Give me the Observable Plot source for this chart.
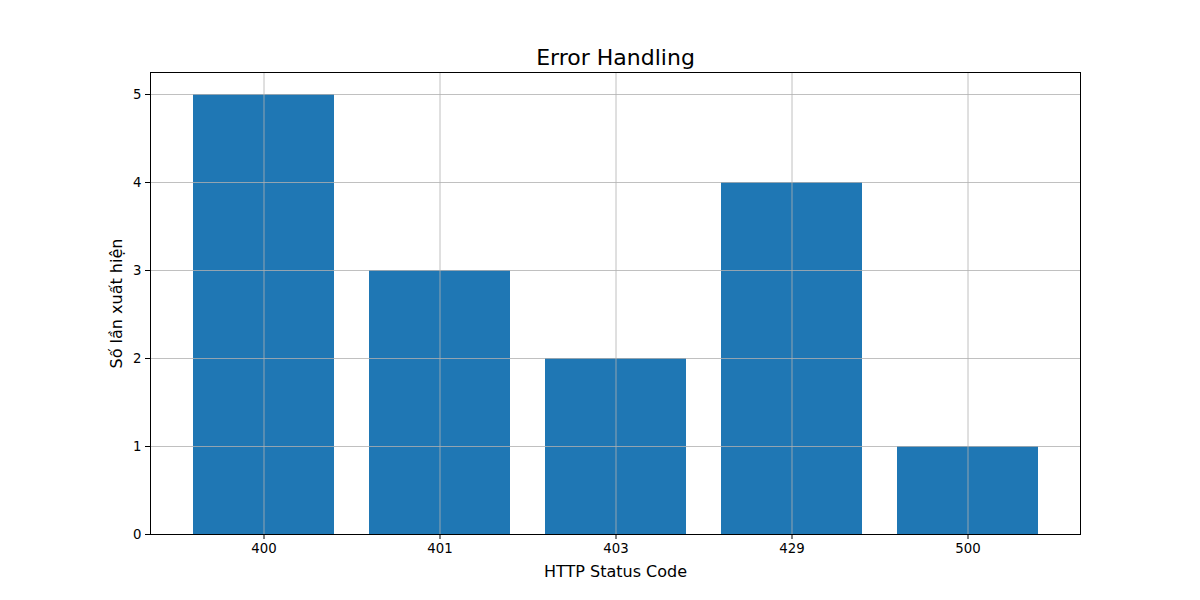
<!DOCTYPE html>
<html>
<head>
<meta charset="utf-8">
<script src="https://cdn.jsdelivr.net/npm/d3@7"></script>
<script src="https://cdn.jsdelivr.net/npm/@observablehq/plot@0.6"></script>
<style>
  body { margin: 0; background: #fff; }
  svg { font-family: "DejaVu Sans", sans-serif; }
</style>
</head>
<body>
<div id="chart"></div>
<script>
const codes = ["400", "401", "403", "429", "500"];
const counts = [5, 3, 2, 4, 1];
const yTicks = [0, 1, 2, 3, 4, 5];
const title = "Error Handling";
const xLabel = "HTTP Status Code";
const yLabel = "Số lần xuất hiện";

const data = codes.map((c, i) => ({code: c, count: counts[i]}));

const chart = Plot.plot({
  width: 1200,
  height: 600,
  marginLeft: 150,
  marginRight: 120,
  marginTop: 72,
  marginBottom: 66,
  style: {fontFamily: "DejaVu Sans, sans-serif", fontSize: "13.3px", color: "black", background: "white"},
  x: {type: "band", domain: codes, paddingInner: 0.2, paddingOuter: 0.24, align: 0.5, label: null},
  y: {domain: [0, 5.25], label: null},
  marks: [
    Plot.barY(data, {x: "code", y: "count", fill: "#1f77b4"}),
    Plot.gridX({stroke: "#b0b0b0", strokeOpacity: 1, strokeWidth: 0.8}),
    Plot.gridY(yTicks, {stroke: "#b0b0b0", strokeOpacity: 1, strokeWidth: 0.8}),
    Plot.axisX({tickSize: 5, tickPadding: 4, fontSize: 13.3, label: null, stroke: "black"}),
    Plot.axisY({ticks: yTicks, tickFormat: "d", tickSize: 5, tickPadding: 4, fontSize: 13.3, label: null, stroke: "black"}),
    Plot.frame({stroke: "black", strokeWidth: 1}),
    Plot.text([title], {frameAnchor: "top", dy: -15, fontSize: 22, lineAnchor: "middle", fill: "black"}),
    Plot.text([xLabel], {frameAnchor: "bottom", dy: 37, fontSize: 16, lineAnchor: "middle", fill: "black"}),
    Plot.text([yLabel], {frameAnchor: "left", dx: -34, rotate: -90, fontSize: 16, textAnchor: "middle", lineAnchor: "middle", fill: "black"})
  ]
});
document.getElementById("chart").append(chart);
</script>
</body>
</html>
